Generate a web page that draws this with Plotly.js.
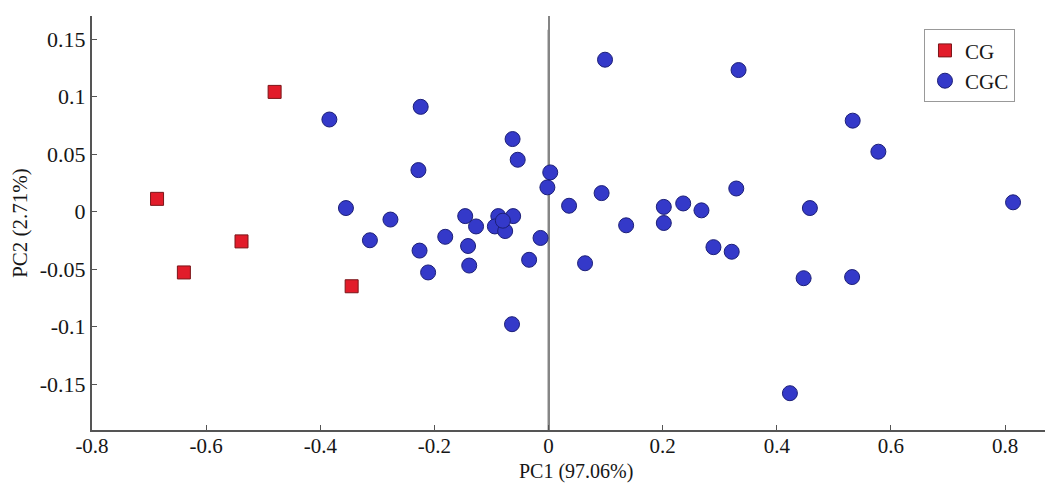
<!DOCTYPE html>
<html>
<head>
<meta charset="utf-8">
<script src="https://cdn.plot.ly/plotly-3.0.1.min.js"></script>
<style>html,body{margin:0;padding:0;background:#fff;}#chart{width:1054px;height:483px;}</style>
</head>
<body>
<div id="chart"></div>
<script>
// CG group (red squares)
const cgPC1 = [-0.480, -0.686, -0.538, -0.639, -0.345];
const cgPC2 = [0.104, 0.011, -0.026, -0.053, -0.065];

// CGC group (blue circles)
const cgcPC1 = [-0.384, -0.355, -0.277, -0.313, -0.224, -0.228, -0.063, -0.054, 0.003, -0.002,
                -0.146, -0.127, -0.181, -0.226, -0.211, -0.141, -0.139, -0.088, -0.062, -0.094,
                -0.076, -0.080, -0.014, -0.034, 0.036, -0.064, 0.064, 0.093, 0.136, 0.202,
                0.202, 0.236, 0.268, 0.289, 0.321, 0.329, 0.099, 0.333, 0.533, 0.578,
                0.458, 0.814, 0.447, 0.532, 0.423];
const cgcPC2 = [0.080, 0.003, -0.007, -0.025, 0.091, 0.036, 0.063, 0.045, 0.034, 0.021,
                -0.004, -0.013, -0.022, -0.034, -0.053, -0.030, -0.047, -0.004, -0.004, -0.013,
                -0.017, -0.008, -0.023, -0.042, 0.005, -0.098, -0.045, 0.016, -0.012, 0.004,
                -0.010, 0.007, 0.001, -0.031, -0.035, 0.020, 0.132, 0.123, 0.079, 0.052,
                0.003, 0.008, -0.058, -0.057, -0.158];

const seriesNames = ["CG", "CGC"];
const xTickVals = [-0.8, -0.6, -0.4, -0.2, 0, 0.2, 0.4, 0.6, 0.8];
const xTickText = ["-0.8", "-0.6", "-0.4", "-0.2", "0", "0.2", "0.4", "0.6", "0.8"];
const yTickVals = [-0.15, -0.1, -0.05, 0, 0.05, 0.1, 0.15];
const yTickText = ["-0.15", "-0.1", "-0.05", "0", "0.05", "0.1", "0.15"];
const xTitle = "PC1 (97.06%)";
const yTitle = "PC2 (2.71%)";

const FONT = "Liberation Serif, Times New Roman, serif";
const INK = "#161616";

const traces = [
  {
    x: cgPC1, y: cgPC2, name: seriesNames[0], type: "scatter", mode: "markers",
    marker: {symbol: "square", size: 13, color: "#e21c2a", line: {color: "#7a1518", width: 1}}
  },
  {
    x: cgcPC1, y: cgcPC2, name: seriesNames[1], type: "scatter", mode: "markers",
    marker: {symbol: "circle", size: 15, color: "#3439c9", line: {color: "#1c1f78", width: 1}}
  }
];

const layout = {
  width: 1054, height: 483,
  margin: {l: 92, r: 9, t: 16, b: 53},
  paper_bgcolor: "#ffffff", plot_bgcolor: "#ffffff",
  font: {family: FONT, size: 21, color: INK},
  showlegend: true,
  legend: {
    x: 0.873, y: 0.968, xanchor: "left", yanchor: "top",
    bgcolor: "#ffffff", bordercolor: "#999", borderwidth: 1,
    font: {family: FONT, size: 21, color: INK},
    tracegroupgap: 0, itemwidth: 30
  },
  xaxis: {
    range: [-0.8, 0.87], tickmode: "array", tickvals: xTickVals, ticktext: xTickText,
    showgrid: false, zeroline: true, zerolinecolor: "#858585", zerolinewidth: 2,
    showline: true, linecolor: "#555", linewidth: 2,
    ticks: "inside", ticklen: 5, tickcolor: "#555", tickwidth: 1,
    ticklabelstandoff: -4,
    tickfont: {family: FONT, size: 21, color: INK},
    automargin: false
  },
  yaxis: {
    range: [-0.19, 0.17], tickmode: "array", tickvals: yTickVals, ticktext: yTickText,
    showgrid: false, zeroline: false,
    showline: true, linecolor: "#555", linewidth: 2,
    ticks: "inside", ticklen: 5, tickcolor: "#555", tickwidth: 1,
    tickfont: {family: FONT, size: 22, color: INK},
    title: {text: yTitle, font: {family: FONT, size: 21, color: INK}, standoff: 6},
    automargin: false
  },
  annotations: [
    {text: xTitle, xref: "paper", yref: "paper", x: 0.508, y: 0,
     xanchor: "center", yanchor: "bottom", yshift: -54, showarrow: false, borderpad: 0,
     font: {family: FONT, size: 20, color: INK}}
  ],
  shapes: [
    {type: "line", xref: "x", yref: "y", x0: 0, x1: 0, y0: -0.19, y1: 0.158,
     line: {color: "#858585", width: 2}, layer: "below"}
  ]
};

Plotly.newPlot("chart", traces, layout, {displayModeBar: false, staticPlot: true});
</script>
</body>
</html>
